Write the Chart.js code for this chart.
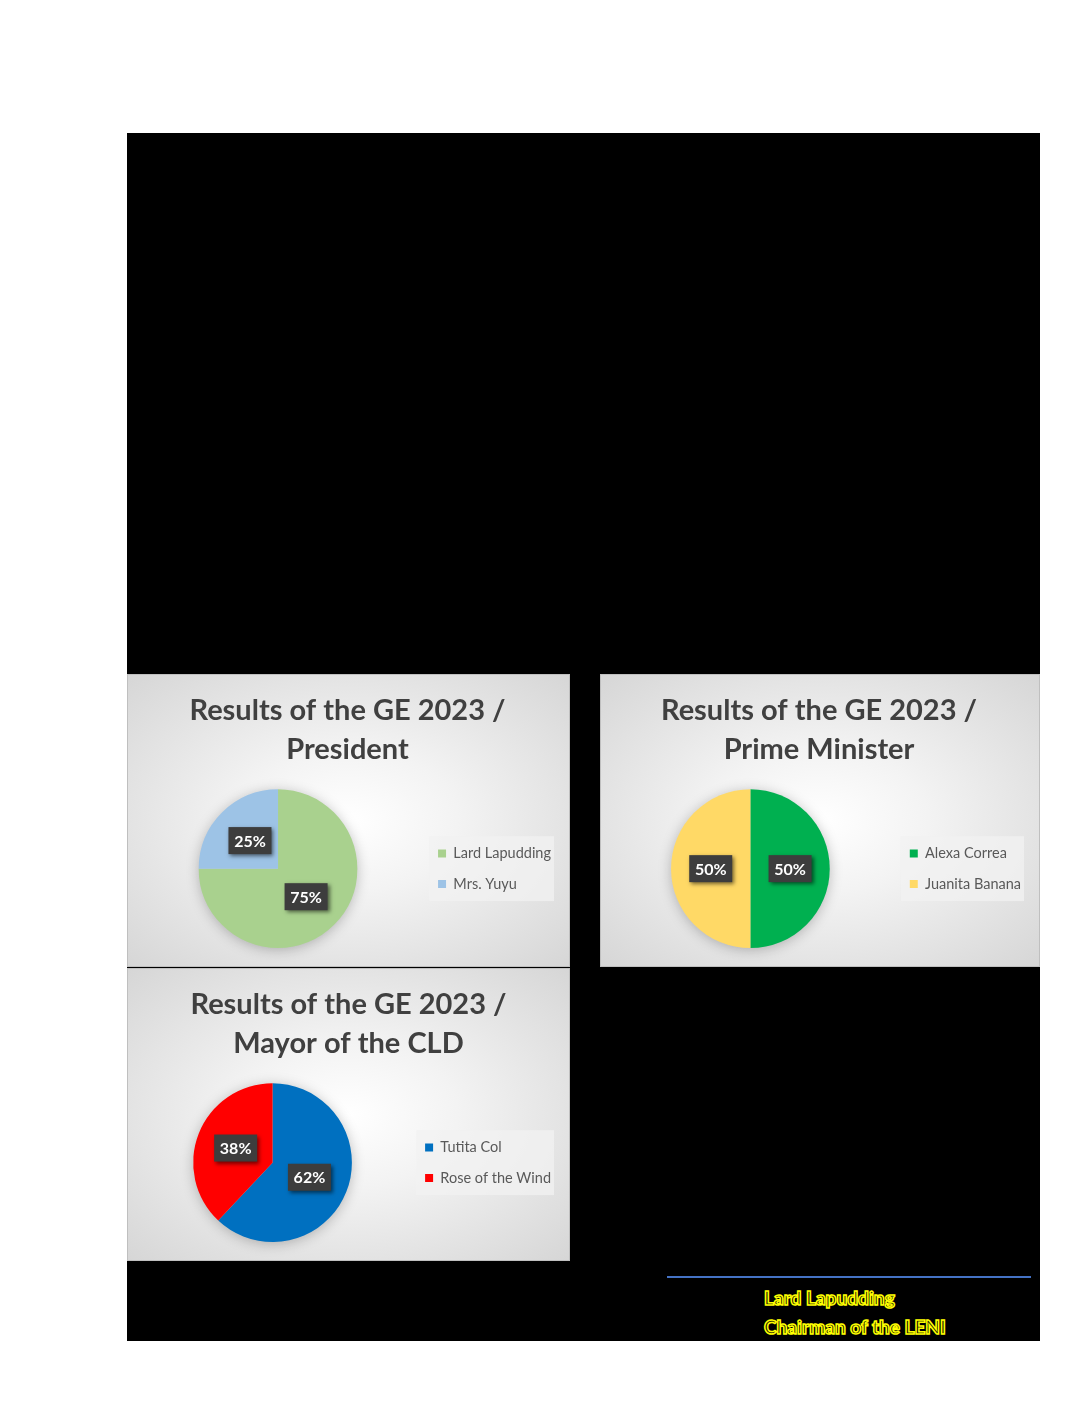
<!DOCTYPE html>
<html>
<head>
<meta charset="utf-8">
<script src="https://cdn.jsdelivr.net/npm/chart.js@4.4.1/dist/chart.umd.min.js"></script>
<style>
  html,body{margin:0;padding:0;background:#fff;}
  body{width:1088px;height:1408px;position:relative;overflow:hidden;font-family:Lato,"Open Sans",sans-serif;}
  #page{position:absolute;left:127px;top:133px;width:913px;height:1208px;background:#000;}
  .panel{position:absolute;box-sizing:border-box;border:1px solid #bfbfbf;
    background:radial-gradient(ellipse at 50% 50%, #ffffff 0%, #f3f3f3 35%, #d6d6d6 100%);}
  .panel canvas{position:absolute;left:0;top:0;}
  #rule{position:absolute;left:667px;top:1276px;width:364px;height:2px;background:#4472C4;}
  .sig{position:absolute;left:764px;font-family:Lato,sans-serif;font-weight:900;font-size:19px;
    color:#1a1a00;-webkit-text-stroke:1.5px #FFFF00;letter-spacing:0px;white-space:nowrap;line-height:1;}
</style>
</head>
<body>
<div id="page"></div>
<div class="panel" style="left:127px;top:674px;width:443px;height:293px;"><canvas id="c1" width="443" height="293"></canvas></div>
<div class="panel" style="left:600px;top:674px;width:440px;height:293px;"><canvas id="c2" width="440" height="293"></canvas></div>
<div class="panel" style="left:127px;top:968px;width:443px;height:293px;"><canvas id="c3" width="443" height="293"></canvas></div>
<div id="rule"></div>
<div class="sig" style="top:1288px;">Lard Lapudding</div>
<div class="sig" style="top:1317px;">Chairman of the LENI</div>
<script>
// ---- data ----
const presTitle = ['Results of the GE 2023 /', 'President'];
const presLabels = ['Lard Lapudding', 'Mrs. Yuyu'];
const presValues = [75, 25];

const pmTitle = ['Results of the GE 2023 /', 'Prime Minister'];
const pmLabels = ['Alexa Correa', 'Juanita Banana'];
const pmValues = [50, 50];

const mayorTitle = ['Results of the GE 2023 /', 'Mayor of the CLD'];
const mayorLabels = ['Tutita Col', 'Rose of the Wind'];
const mayorValues = [62, 38];

// ---- styles ----
const presColors = ['#A9D18E', '#9DC3E6'];
const pmColors = ['#00B050', '#FFD966'];
const mayorColors = ['#0070C0', '#FF0000'];

const pieShadow = {
  id: 'pieShadow',
  beforeDatasetsDraw(chart) {
    const meta = chart.getDatasetMeta(0);
    if (!meta.data.length) return;
    const a = meta.data[0];
    const ctx = chart.ctx;
    ctx.save();
    ctx.shadowColor = 'rgba(0,0,0,0.28)';
    ctx.shadowBlur = 14;
    ctx.shadowOffsetX = 0;
    ctx.shadowOffsetY = 2;
    ctx.fillStyle = '#cccccc';
    ctx.beginPath();
    ctx.arc(a.x, a.y, a.outerRadius - 1, 0, Math.PI * 2);
    ctx.fill();
    ctx.restore();
  }
};

const legendBg = {
  id: 'legendBg',
  beforeDraw(chart) {
    const lg = chart.legend;
    if (!lg) return;
    const ctx = chart.ctx;
    ctx.save();
    ctx.fillStyle = 'rgba(242,242,242,0.75)';
    const items = lg.legendHitBoxes;
    if (items && items.length) {
      const top = items[0].top - 10;
      const bottom = items[items.length - 1].top + items[items.length - 1].height + 10;
      ctx.fillRect(items[0].left - 9, top, lg.right - items[0].left + 2, bottom - top);
    }
    ctx.restore();
  }
};

const dataLabels = {
  id: 'dataLabels',
  afterDatasetsDraw(chart) {
    const ctx = chart.ctx;
    const ds = chart.data.datasets[0];
    const total = ds.data.reduce((s, v) => s + v, 0);
    const meta = chart.getDatasetMeta(0);
    meta.data.forEach((arc, i) => {
      const p = arc.tooltipPosition();
      const txt = Math.round(ds.data[i] / total * 100) + '%';
      const w = 43, h = 27;
      ctx.save();
      ctx.shadowColor = 'rgba(0,0,0,0.55)';
      ctx.shadowBlur = 4;
      ctx.shadowOffsetX = 2;
      ctx.shadowOffsetY = 2;
      ctx.fillStyle = '#3d3d3d';
      ctx.fillRect(p.x - w / 2, p.y - h / 2, w, h);
      ctx.restore();
      ctx.save();
      ctx.fillStyle = '#ffffff';
      ctx.font = 'bold 16px Lato, sans-serif';
      ctx.textAlign = 'center';
      ctx.textBaseline = 'middle';
      ctx.fillText(txt, p.x, p.y + 1);
      ctx.restore();
    });
  }
};

function makePie(id, title, labels, values, colors, padL, padR) {
  new Chart(document.getElementById(id), {
    type: 'pie',
    data: {
      labels: labels,
      datasets: [{ data: values, backgroundColor: colors, borderWidth: 0 }]
    },
    options: {
      responsive: false,
      animation: false,
      layout: { padding: { left: padL, right: padR, top: 0, bottom: 20 } },
      plugins: {
        title: {
          display: true,
          text: title,
          color: '#404040',
          font: { family: 'Lato', weight: 'bold', size: 29, lineHeight: 1.35 },
          padding: { top: 16, bottom: 20 }
        },
        legend: {
          display: true,
          position: 'right',
          fullSize: false,
          labels: {
            color: '#595959',
            font: { family: 'Lato', size: 14.5 },
            boxWidth: 8,
            boxHeight: 8,
            padding: 16
          }
        },
        tooltip: { enabled: false }
      }
    },
    plugins: [legendBg, pieShadow, dataLabels]
  });
}

makePie('c1', presTitle, presLabels, presValues, presColors, 6, 10);
makePie('c2', pmTitle, pmLabels, pmValues, pmColors, 6, 10);
makePie('c3', mayorTitle, mayorLabels, mayorValues, mayorColors, 8, 10);
</script>
</body>
</html>
